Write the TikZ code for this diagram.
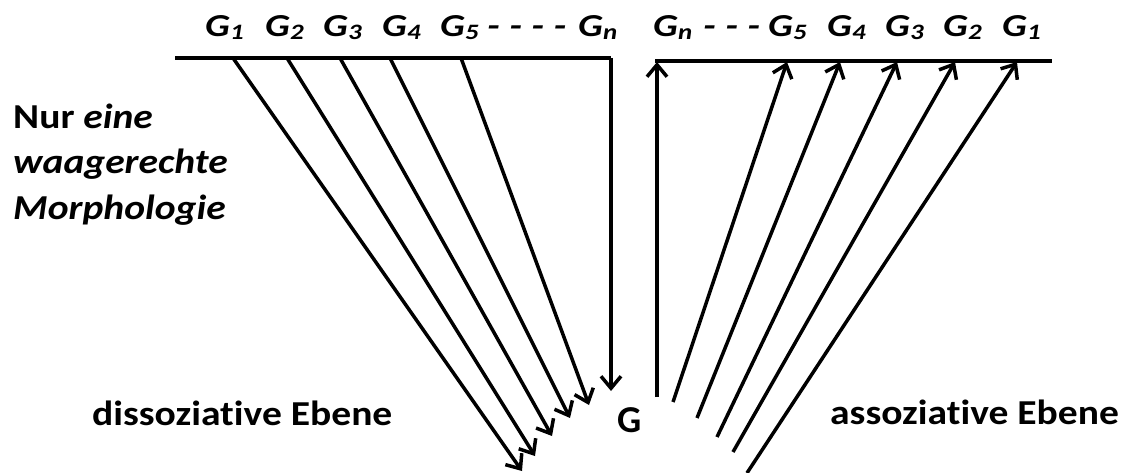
\documentclass[tikz,border=0pt]{standalone}
\usepackage{fontspec}
\setmainfont{Carlito}[RawFeature=-liga]
\usetikzlibrary{arrows.meta}
\begin{document}
\begin{tikzpicture}[x=1pt,y=-1pt,
  ln/.style={line width=3.5pt},
  arr/.style={ln,-{Straight Barb[length=12pt,width=20pt]}},
  lab/.style={font=\fontsize{32}{32}\selectfont\bfseries\itshape, anchor=base west, inner sep=0pt},
  txt/.style={font=\fontsize{35}{35}\selectfont\bfseries, anchor=base west, inner sep=0pt}]
\useasboundingbox (0,0) rectangle (1135,473);
\newcommand{\Gs}[1]{\scalebox{1.22}[1]{G\raisebox{-3pt}{\fontsize{22}{22}\selectfont #1}}}
\newcommand{\Dd}[1]{\scalebox{1.3}[1]{#1}}
\newcommand{\St}[1]{\scalebox{1.13}[1]{#1}}
% top labels left
\node[lab] (l1) at (205,37) {\Gs{1}};
\node[lab] (l2) at (265,37) {\Gs{2}};
\node[lab] (l3) at (323,37) {\Gs{3}};
\node[lab] (l4) at (382,37) {\Gs{4}};
\node[lab] (l5) at (440,37) {\Gs{5}};
\node[lab] (ld) at (487,37) {\Dd{- - - -}};
\node[lab] (ln) at (578,37) {\Gs{n}};
% top labels right
\node[lab] (rn) at (653,37) {\Gs{n}};
\node[lab] (rd) at (703,37) {\Dd{- - -}};
\node[lab] (r5) at (768,37) {\Gs{5}};
\node[lab] (r4) at (827,37) {\Gs{4}};
\node[lab] (r3) at (885,37) {\Gs{3}};
\node[lab] (r2) at (943,37) {\Gs{2}};
\node[lab] (r1) at (1002,37) {\Gs{1}};
% side texts
\node[txt] (t1) at (13,129) {\St{Nur \textit{eine}}};
\node[txt] (t2) at (13,174) {\St{\textit{waagerechte}}};
\node[txt] (t3) at (13,219) {\St{\textit{Morphologie}}};
\node[txt] (dis) at (92,425) {\St{dissoziative Ebene}};
\node[txt] (ass) at (830,424) {\St{assoziative Ebene}};
\node[txt,font=\fontsize{38}{38}\selectfont\bfseries] (G) at (617,432) {G};
% left structure
\coordinate (La) at (175,58);
\coordinate (Lc) at (611,58);
\coordinate (Ln) at (611,391);
\coordinate (S1) at (233,58); \coordinate (E1) at (522,471);
\coordinate (S2) at (287,58); \coordinate (E2) at (535,456);
\coordinate (S3) at (340,58); \coordinate (E3) at (552,436);
\coordinate (S4) at (390,58); \coordinate (E4) at (570,418);
\coordinate (S5) at (461,58); \coordinate (E5) at (589,405);
\draw[ln] (La) -- (Lc);
\draw[arr] (Lc) -- (Ln);
\foreach \i in {1,...,5} \draw[arr] (S\i) -- (E\i);
% right structure
\coordinate (Ra) at (655,61);
\coordinate (Rb) at (1052,61);
\draw[ln] (Ra) -- (Rb);
\coordinate (Q0) at (657,397); \coordinate (T0) at (657,62);
\draw[arr] (Q0) -- (T0);
\coordinate (Q5) at (673,402); \coordinate (T5) at (787,62);
\coordinate (Q4) at (697,418); \coordinate (T4) at (840,62);
\coordinate (Q3) at (717,437); \coordinate (T3) at (897,62);
\coordinate (Q2) at (733,452); \coordinate (T2) at (955,62);
\coordinate (Q1) at (747,473); \coordinate (T1) at (1017,62);
\foreach \i in {1,...,5} \draw[arr] (Q\i) -- (T\i);
\end{tikzpicture}
\end{document}
